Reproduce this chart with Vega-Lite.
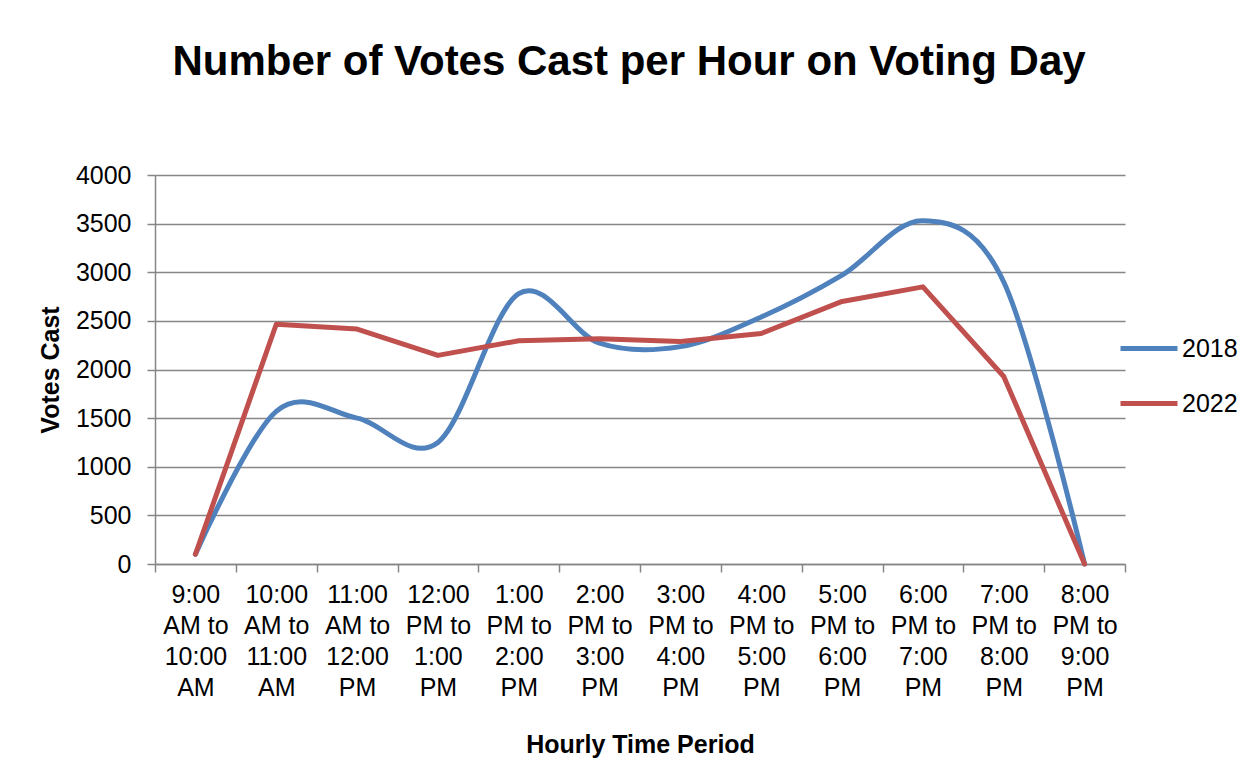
{
  "$schema": "https://vega.github.io/schema/vega-lite/v6.json",
  "width": 970,
  "height": 389,
  "autosize": {"type": "none"},
  "padding": {"left": 155, "top": 175, "right": 131, "bottom": 212},
  "background": "white",
  "title": {
    "text": "Number of Votes Cast per Hour on Voting Day",
    "font": "Liberation Sans",
    "fontSize": 42,
    "fontWeight": "bold",
    "color": "black",
    "anchor": "middle",
    "dx": -11,
    "baseline": "alphabetic",
    "offset": 46
  },
  "config": {
    "view": {"stroke": null},
    "font": "Liberation Sans",
    "axis": {
      "labelFont": "Liberation Sans",
      "titleFont": "Liberation Sans",
      "labelFontSize": 25,
      "titleFontSize": 25,
      "labelColor": "black",
      "titleColor": "black",
      "titleFontWeight": "bold",
      "domainColor": "#868686",
      "domainWidth": 1.5,
      "tickColor": "#868686",
      "tickWidth": 1.5,
      "tickSize": 8,
      "gridColor": "#868686",
      "gridWidth": 1.5
    },
    "legend": {
      "labelFont": "Liberation Sans",
      "labelFontSize": 25,
      "labelColor": "black"
    }
  },
  "data": {
    "values": [
      {"period": "9:00 AM to 10:00 AM", "year": "2018", "votes": 100},
      {"period": "10:00 AM to 11:00 AM", "year": "2018", "votes": 1570},
      {"period": "11:00 AM to 12:00 PM", "year": "2018", "votes": 1500},
      {"period": "12:00 PM to 1:00 PM", "year": "2018", "votes": 1250},
      {"period": "1:00 PM to 2:00 PM", "year": "2018", "votes": 2780},
      {"period": "2:00 PM to 3:00 PM", "year": "2018", "votes": 2270},
      {"period": "3:00 PM to 4:00 PM", "year": "2018", "votes": 2235},
      {"period": "4:00 PM to 5:00 PM", "year": "2018", "votes": 2540},
      {"period": "5:00 PM to 6:00 PM", "year": "2018", "votes": 2970},
      {"period": "6:00 PM to 7:00 PM", "year": "2018", "votes": 3530},
      {"period": "7:00 PM to 8:00 PM", "year": "2018", "votes": 2900},
      {"period": "8:00 PM to 9:00 PM", "year": "2018", "votes": 0},
      {"period": "9:00 AM to 10:00 AM", "year": "2022", "votes": 100},
      {"period": "10:00 AM to 11:00 AM", "year": "2022", "votes": 2465},
      {"period": "11:00 AM to 12:00 PM", "year": "2022", "votes": 2416},
      {"period": "12:00 PM to 1:00 PM", "year": "2022", "votes": 2145},
      {"period": "1:00 PM to 2:00 PM", "year": "2022", "votes": 2296},
      {"period": "2:00 PM to 3:00 PM", "year": "2022", "votes": 2316},
      {"period": "3:00 PM to 4:00 PM", "year": "2022", "votes": 2288},
      {"period": "4:00 PM to 5:00 PM", "year": "2022", "votes": 2370},
      {"period": "5:00 PM to 6:00 PM", "year": "2022", "votes": 2700},
      {"period": "6:00 PM to 7:00 PM", "year": "2022", "votes": 2850},
      {"period": "7:00 PM to 8:00 PM", "year": "2022", "votes": 1928},
      {"period": "8:00 PM to 9:00 PM", "year": "2022", "votes": 0}
    ]
  },
  "encoding": {
    "x": {
      "field": "period",
      "type": "nominal",
      "scale": {
        "type": "band",
        "paddingInner": 0,
        "paddingOuter": 0,
        "domain": ["9:00 AM to 10:00 AM", "10:00 AM to 11:00 AM", "11:00 AM to 12:00 PM", "12:00 PM to 1:00 PM", "1:00 PM to 2:00 PM", "2:00 PM to 3:00 PM", "3:00 PM to 4:00 PM", "4:00 PM to 5:00 PM", "5:00 PM to 6:00 PM", "6:00 PM to 7:00 PM", "7:00 PM to 8:00 PM", "8:00 PM to 9:00 PM"]
      },
      "axis": {
        "title": "Hourly Time Period",
        "labelAngle": 0,
        "labelExpr": "datum.value ? split(replace(datum.value, / (?!to)/g, '|'), '|') : ''",
        "labelLineHeight": 31,
        "labelPadding": 10,
        "labelBaseline": "top",
        "tickBand": "extent",
        "titlePadding": 32,
        "grid": false
      }
    },
    "y": {
      "field": "votes",
      "type": "quantitative",
      "scale": {"domain": [0, 4000]},
      "axis": {
        "title": "Votes Cast",
        "values": [0, 500, 1000, 1500, 2000, 2500, 3000, 3500, 4000],
        "format": "d",
        "labelPadding": 16,
        "titlePadding": 12,
        "grid": true
      }
    },
    "color": {
      "field": "year",
      "type": "nominal",
      "scale": {"domain": ["2018", "2022"], "range": ["#4F81BD", "#C0504D"]},
      "legend": {
        "title": null,
        "orient": "none",
        "legendX": 963,
        "legendY": 146,
        "symbolType": "stroke",
        "symbolSize": 3249,
        "symbolStrokeWidth": 5,
        "clipHeight": 55,
        "rowPadding": 0,
        "labelOffset": 2
      }
    }
  },
  "layer": [
    {
      "transform": [{"filter": "datum.year === '2018'"}],
      "mark": {"type": "line", "interpolate": "cardinal", "strokeWidth": 5, "strokeCap": "round", "strokeJoin": "round"}
    },
    {
      "transform": [{"filter": "datum.year === '2022'"}],
      "mark": {"type": "line", "strokeWidth": 5, "strokeCap": "round", "strokeJoin": "round"}
    }
  ]
}
